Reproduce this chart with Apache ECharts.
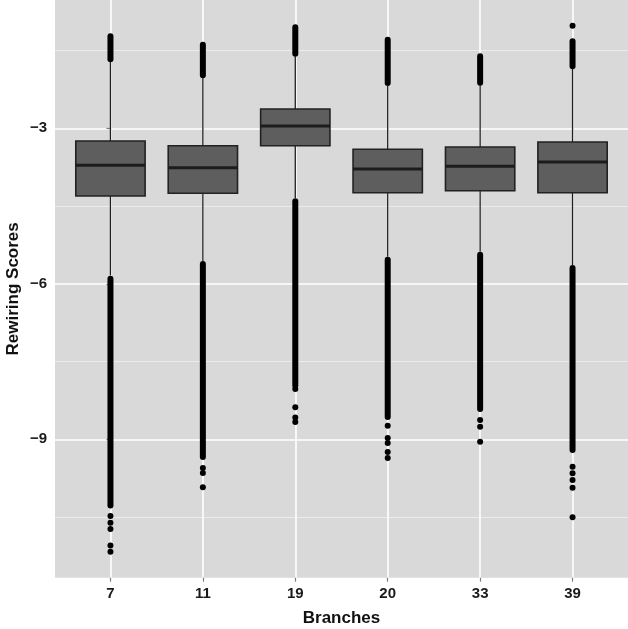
<!DOCTYPE html>
<html>
<head>
<meta charset="utf-8">
<script src="https://cdn.jsdelivr.net/npm/echarts@6/dist/echarts.min.js"></script>
<style>html,body{margin:0;padding:0;background:#fff;}#chart{width:628px;height:629px;}</style>
</head>
<body>
<div id="chart"></div>
<script>
// Categories (branches)
const categories = ['7', '11', '19', '20', '33', '39'];
// Box statistics per branch
const lowerWhisker = [-5.84, -5.56, -4.35, -5.48, -5.38, -5.64];
const q1 = [-4.306, -4.254, -3.336, -4.243, -4.204, -4.243];
const median = [-3.714, -3.762, -2.956, -3.785, -3.733, -3.650];
const q3 = [-3.245, -3.336, -2.628, -3.405, -3.361, -3.264];
const upperWhisker = [-1.72, -2.03, -1.605, -2.175, -2.165, -1.846];
// Dense runs of outliers, read as solid columns: [branchIndex, from, to]
const outlierRuns = [
  [0, -1.225, -1.669], [0, -5.902, -10.278],
  [1, -1.387, -1.977], [1, -5.618, -9.342],
  [2, -1.051, -1.561], [2, -4.408, -7.96],
  [3, -1.291, -2.126], [3, -5.535, -8.570],
  [4, -1.611, -2.120], [4, -5.439, -8.416],
  [5, -1.321, -1.804], [5, -5.695, -9.207]
];
// Isolated outliers: [branchIndex, value]
const outlierPoints = [
  [0, -10.48], [0, -10.61], [0, -10.73], [0, -11.05], [0, -11.17],
  [1, -9.554], [1, -9.65], [1, -9.926],
  [2, -8.03], [2, -8.383], [2, -8.58], [2, -8.667],
  [3, -8.738], [3, -8.975], [3, -9.072], [3, -9.245], [3, -9.361],
  [4, -8.628], [4, -8.757], [4, -9.047],
  [5, -9.529], [5, -9.657], [5, -9.786], [5, -9.934], [5, -10.505],
  [5, -1.020]
];
// Axis ticks
const yTicks = [-9, -6, -3];
const yMinorTicks = [-10.5, -7.5, -4.5, -1.5];
const xTicks = categories.map((c, i) => i);

const boxData = categories.map((c, i) => [i, lowerWhisker[i], q1[i], median[i], q3[i], upperWhisker[i]]);

const chart = echarts.init(document.getElementById('chart'), null, {renderer: 'canvas'});
const fontFamily = '"Liberation Sans", Arial, Helvetica, sans-serif';
const labelFont = {fontFamily: fontFamily, fontSize: 15, fontWeight: 'bold', color: '#1a1a1a'};
const option = {
  animation: false,
  grid: {left: 55, right: 0, top: 0, bottom: 51.3, containLabel: false, outerBoundsMode: 'none',
    show: true, backgroundColor: '#d9d9d9', borderWidth: 0},
  xAxis: {
    type: 'value', min: -0.6, max: 5.6,
    name: 'Branches', nameLocation: 'middle', nameGap: 32, nameMoveOverlap: false,
    nameTextStyle: {fontFamily: fontFamily, fontSize: 17, fontWeight: 'bold', color: '#111'},
    axisLine: {show: false},
    axisTick: {show: true, customValues: xTicks, length: 4, lineStyle: {color: '#7f7f7f', width: 1.2}},
    axisLabel: Object.assign({customValues: xTicks, margin: 9, formatter: v => categories[Math.round(v)]}, labelFont),
    splitLine: {show: true, lineStyle: {color: '#ffffff', width: 1.6}}
  },
  yAxis: [{
    type: 'value', min: -11.67, max: -0.525,
    name: 'Rewiring Scores', nameLocation: 'middle', nameGap: 33, nameRotate: 90, nameMoveOverlap: false,
    nameTextStyle: {fontFamily: fontFamily, fontSize: 17, fontWeight: 'bold', color: '#111'},
    axisLine: {show: false},
    axisTick: {show: true, customValues: yTicks, length: 4, lineStyle: {color: '#7f7f7f', width: 1.2}},
    axisLabel: Object.assign({customValues: yTicks, margin: 8, formatter: v => String(v).replace('-', '\u2212')}, labelFont),
    splitLine: {show: true, lineStyle: {color: '#ffffff', width: 1.6}}
  }, {
    type: 'value', min: -11.67, max: -0.525, position: 'left',
    axisLine: {show: false},
    axisTick: {show: false, customValues: yMinorTicks},
    axisLabel: {show: false, customValues: yMinorTicks},
    splitLine: {show: true, lineStyle: {color: '#ececec', width: 1}}
  }],
  series: [
    {
      type: 'custom', name: 'runs', data: outlierRuns, encode: {x: 0, y: [1, 2]},
      renderItem: function (params, api) {
        const a = api.coord([api.value(0), api.value(1)]);
        const b = api.coord([api.value(0), api.value(2)]);
        return {type: 'line', shape: {x1: a[0], y1: a[1], x2: b[0], y2: b[1]},
          style: {stroke: '#000', lineWidth: 6, lineCap: 'round'}};
      }
    },
    {
      type: 'scatter', name: 'outliers', data: outlierPoints, symbol: 'circle', symbolSize: 6,
      itemStyle: {color: '#000', opacity: 1}
    },
    {
      type: 'custom', name: 'boxes', data: boxData, encode: {x: 0, y: [1, 2, 3, 4, 5]},
      renderItem: function (params, api) {
        const x = api.value(0);
        const w = api.size([0.75, 0])[0];
        const pLo = api.coord([x, api.value(1)]);
        const pQ1 = api.coord([x, api.value(2)]);
        const pMed = api.coord([x, api.value(3)]);
        const pQ3 = api.coord([x, api.value(4)]);
        const pHi = api.coord([x, api.value(5)]);
        const cx = pMed[0];
        const lineStyle = {stroke: '#1e1e1e', lineWidth: 1.3};
        return {type: 'group', children: [
          {type: 'line', shape: {x1: cx, y1: pLo[1], x2: cx, y2: pQ1[1]}, style: lineStyle},
          {type: 'line', shape: {x1: cx, y1: pQ3[1], x2: cx, y2: pHi[1]}, style: lineStyle},
          {type: 'rect', shape: {x: cx - w / 2, y: pQ3[1], width: w, height: pQ1[1] - pQ3[1]},
            style: {fill: '#5e5e5e', stroke: '#222', lineWidth: 1.6}},
          {type: 'line', shape: {x1: cx - w / 2, y1: pMed[1], x2: cx + w / 2, y2: pMed[1]},
            style: {stroke: '#1c1c1c', lineWidth: 3}}
        ]};
      }
    }
  ]
};
chart.setOption(option);
</script>
</body>
</html>
